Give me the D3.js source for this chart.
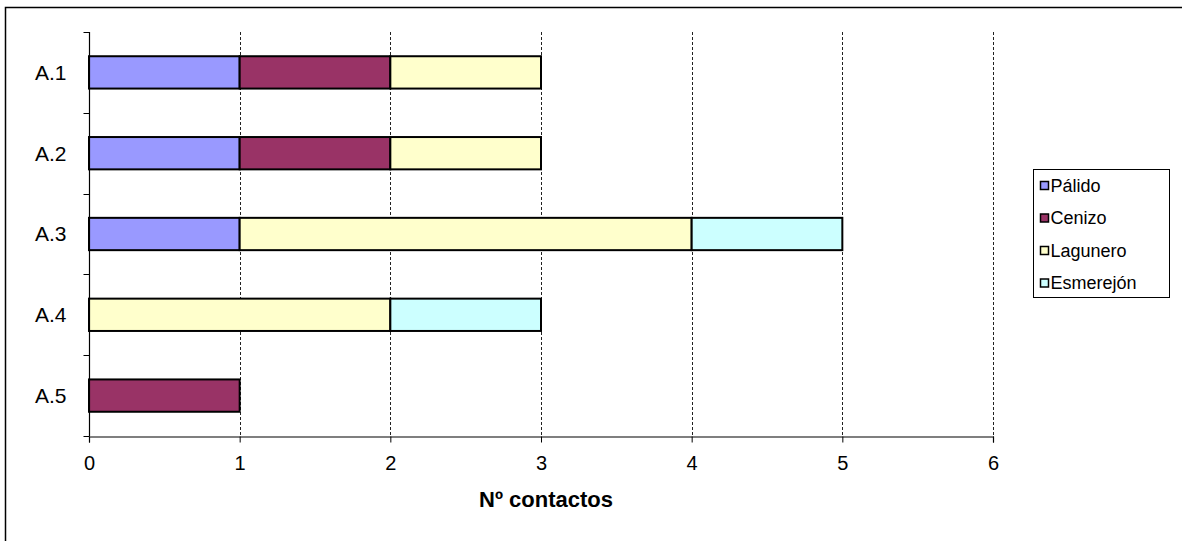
<!DOCTYPE html>
<html>
<head>
<meta charset="utf-8">
<script src="https://cdn.jsdelivr.net/npm/d3@7"></script>
<style>
  html, body { margin: 0; padding: 0; background: #fff; }
  svg { display: block; font-family: "Liberation Sans", Arial, sans-serif; }
</style>
</head>
<body>
<svg id="chart" width="1182" height="541"></svg>
<script>
// Sites and the species counted at each one
const categories = ["A.1", "A.2", "A.3", "A.4", "A.5"];
const seriesNames = ["Pálido", "Cenizo", "Lagunero", "Esmerejón"];
const palido    = [1, 1, 1, 0, 0];
const cenizo    = [1, 1, 0, 0, 1];
const lagunero  = [1, 1, 3, 2, 0];
const esmerejon = [0, 0, 1, 1, 0];
const seriesColors = ["#9999FF", "#993366", "#FFFFCC", "#CCFFFF"];
const xTicks = [0, 1, 2, 3, 4, 5, 6];
const xTitle = "Nº contactos";

const rows = categories.map((c, i) => ({
  cat: c,
  "Pálido": palido[i],
  "Cenizo": cenizo[i],
  "Lagunero": lagunero[i],
  "Esmerejón": esmerejon[i]
}));

const svg = d3.select("#chart");

// outer chart frame
svg.append("rect")
  .attr("x", 5.5).attr("y", 7.5)
  .attr("width", 1200).attr("height", 560)
  .attr("fill", "none").attr("stroke", "#000").attr("stroke-width", 1.5);

const plot = { left: 89, right: 993, top: 32, bottom: 436 };

const x = d3.scaleLinear().domain([0, 6]).range([plot.left, plot.right]);
const y = d3.scaleBand().domain(categories).range([plot.top, plot.bottom]).paddingInner(0.6).paddingOuter(0.3);
const yBand = d3.scaleBand().domain(categories).range([plot.top, plot.bottom]);

// dashed vertical gridlines
svg.append("g").selectAll("line")
  .data(xTicks.filter(t => t > 0))
  .join("line")
  .attr("x1", d => Math.round(x(d)) + 0.5).attr("x2", d => Math.round(x(d)) + 0.5)
  .attr("y1", plot.top).attr("y2", plot.bottom)
  .attr("stroke", "#222").attr("stroke-width", 1)
  .attr("stroke-dasharray", "3,2");

// stacked bars
const stacked = d3.stack().keys(seriesNames)(rows);
const color = d3.scaleOrdinal().domain(seriesNames).range(seriesColors);

svg.append("g").selectAll("g")
  .data(stacked)
  .join("g")
  .attr("fill", d => color(d.key))
  .selectAll("rect")
  .data(d => d.filter(s => s[1] - s[0] > 0))
  .join("rect")
  .attr("x", d => x(d[0]))
  .attr("width", d => x(d[1]) - x(d[0]))
  .attr("y", d => y(d.data.cat))
  .attr("height", y.bandwidth())
  .attr("stroke", "#000").attr("stroke-width", 2);

// x axis
const xAxis = d3.axisBottom(x).tickValues(xTicks).tickSize(6).tickPadding(13).tickFormat(d3.format("d"));
const gx = svg.append("g").attr("transform", `translate(0,${plot.bottom + 0.5})`).call(xAxis);
gx.select(".domain").attr("stroke", "#000").attr("stroke-width", 1.2);
gx.selectAll(".tick line").attr("stroke", "#000");
gx.selectAll("text").attr("font-size", 20).attr("fill", "#000")
  .attr("font-family", "Liberation Sans, Arial, sans-serif");

// y axis with ticks on band boundaries
const gy = svg.append("g").attr("transform", `translate(${plot.left + 0.5},0)`);
gy.append("line").attr("x1", 0).attr("x2", 0).attr("y1", plot.top).attr("y2", plot.bottom)
  .attr("stroke", "#000").attr("stroke-width", 1.2);
const bounds = categories.map(c => yBand(c)).concat([plot.bottom]);
gy.selectAll("line.bt").data(bounds).join("line").attr("class", "bt")
  .attr("x1", -6).attr("x2", 0)
  .attr("y1", d => Math.round(d) + 0.5).attr("y2", d => Math.round(d) + 0.5)
  .attr("stroke", "#000");
gy.selectAll("text").data(categories).join("text")
  .attr("x", -23).attr("y", d => yBand(d) + yBand.bandwidth() / 2)
  .attr("dy", "0.35em").attr("text-anchor", "end")
  .attr("font-size", 21).attr("fill", "#000").text(d => d);

// axis title
svg.append("text")
  .attr("x", (plot.left + plot.right) / 2 + 5).attr("y", 507)
  .attr("text-anchor", "middle").attr("font-size", 22).attr("font-weight", "bold")
  .text(xTitle);

// legend
const lg = svg.append("g").attr("transform", "translate(1033.5,169.5)");
lg.append("rect").attr("width", 136).attr("height", 128)
  .attr("fill", "#fff").attr("stroke", "#000").attr("stroke-width", 1);
const items = lg.selectAll("g.item").data(seriesNames).join("g").attr("class", "item")
  .attr("transform", (d, i) => `translate(0,${16 + i * 32.5})`);
items.append("rect").attr("x", 7).attr("y", -4).attr("width", 8).attr("height", 8)
  .attr("fill", d => color(d)).attr("stroke", "#000").attr("stroke-width", 1.5);
items.append("text").attr("x", 17).attr("y", 0).attr("dy", "0.35em")
  .attr("font-size", 18).attr("fill", "#000").text(d => d);
</script>
</body>
</html>
